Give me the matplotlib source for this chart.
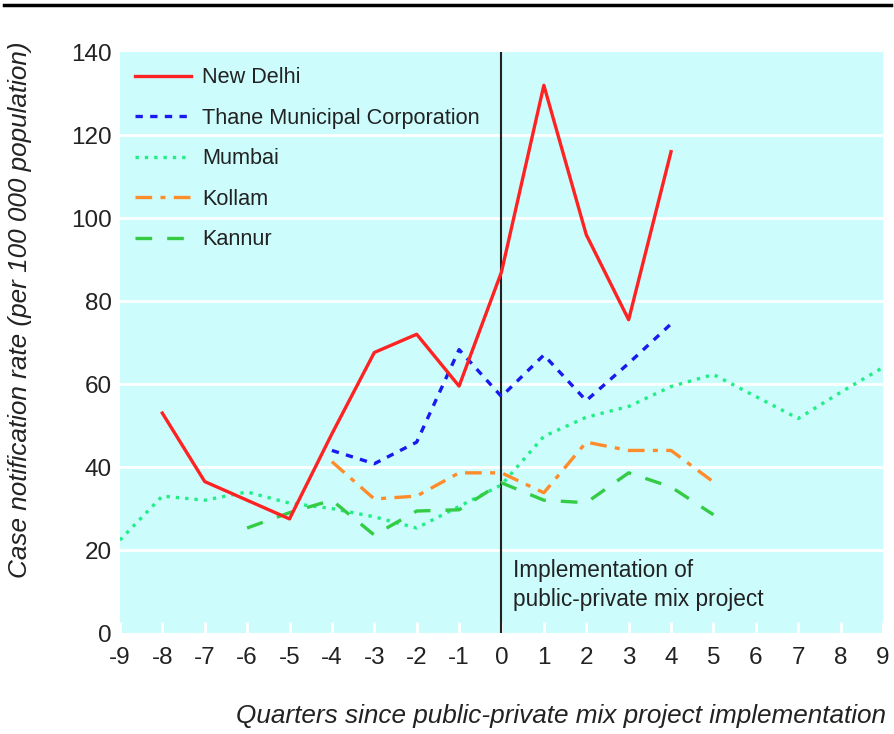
import matplotlib
matplotlib.use("Agg")
import matplotlib.pyplot as plt
from matplotlib.lines import Line2D

plt.rcParams["font.family"] = ["Liberation Sans", "DejaVu Sans"]

# ── Data ──────────────────────────────────────────────────────────────────────
delhi_x = [-8, -7, -6, -5, -4, -3, -2, -1, 0, 1, 2, 3, 4]
delhi_y = [53, 36.5, 32, 27.5, 48, 67.6, 72, 59.5, 87, 132, 96, 75.5, 116]

thane_x = [-4, -3, -2, -1, 0, 1, 2, 3, 4]
thane_y = [44, 40.8, 46, 68.3, 57, 67, 56, 65, 74.5]

mumbai_x = [-9, -8, -7, -6, -5, -4, -3, -2, -1, 0, 1, 2, 3, 4, 5, 6, 7, 8, 9]
mumbai_y = [22.4, 33, 32, 34, 31.3, 30, 28, 25.3, 30.5, 35.7, 47.4, 52, 54.6,
            59.4, 62.3, 57, 51.7, 58, 64]

kollam_x = [-4, -3, -2, -1, 0, 1, 2, 3, 4, 5]
kollam_y = [41.3, 32.3, 33, 38.6, 38.6, 33.8, 46, 44, 44, 36.4]

kannur_x = [-6, -5, -4, -3, -2, -1, 0, 1, 2, 3, 4, 5]
kannur_y = [25.3, 29, 32, 23.6, 29.4, 29.7, 36.2, 32, 31.4, 38.6, 35.2, 28.5]

x_ticks = list(range(-9, 10))
y_ticks = [0, 20, 40, 60, 80, 100, 120, 140]

# ── Figure ────────────────────────────────────────────────────────────────────
fig = plt.figure(figsize=(8.95, 7.34), dpi=100)
ax = fig.add_axes([0.134, 0.1376, 0.8526, 0.7914])
ax.set_facecolor("#ccfcfc")

for y in y_ticks[1:-1]:
    ax.axhline(y, color="white", linewidth=2, zorder=1)

ax.axvline(0, color="#222222", linewidth=1.5, zorder=2)

lw = 2.4
ax.plot(delhi_x, delhi_y, color="#ff2222", linewidth=lw, label="New Delhi", zorder=5)
ax.plot(thane_x, thane_y, color="#1a1aee", linewidth=lw, linestyle=(0, (2.2, 2.2)),
        label="Thane Municipal Corporation", zorder=4)
ax.plot(mumbai_x, mumbai_y, color="#22ee88", linewidth=lw, linestyle=(0, (1, 1.8)),
        label="Mumbai", zorder=3)
ax.plot(kollam_x, kollam_y, color="#ff8c2a", linewidth=lw, linestyle=(0, (5, 2.5, 1.5, 2.5)),
        label="Kollam", zorder=4)
ax.plot(kannur_x, kannur_y, color="#33cc44", linewidth=lw, linestyle=(0, (5, 4.5)),
        label="Kannur", zorder=4)

ax.set_xlim(-9, 9)
ax.set_ylim(0, 140)
ax.set_xticks(x_ticks)
ax.set_xticklabels([str(t) for t in x_ticks])
ax.set_yticks(y_ticks)
ax.tick_params(axis="x", direction="in", color="white", width=2, length=8,
               labelsize=17.5, labelcolor="#222222", pad=10)
ax.tick_params(axis="y", length=0, labelsize=17.5, labelcolor="#222222", pad=6)
for s in ax.spines.values():
    s.set_visible(False)

ax.text(0.28, 17.8, "Implementation of\npublic-private mix project", fontsize=16.3,
        color="#222222", va="top", ha="left", linespacing=1.3)

leg = ax.legend(loc="upper left", frameon=False, fontsize=15.6, handlelength=2.6,
                handletextpad=0.5, labelspacing=0.9, borderaxespad=0.3,
                bbox_to_anchor=(0.0, 1.0))
for t in leg.get_texts():
    t.set_color("#222222")

fig.text(0.022, 0.578, "Case notification rate (per 100 000 population)", rotation=90,
         fontsize=18.8, style="italic", color="#222222", ha="center", va="center")
fig.text(0.99, 0.025, "Quarters since public-private mix project implementation",
         fontsize=18.8, style="italic", color="#222222", ha="right", va="center")

fig.add_artist(Line2D([0.005, 0.995], [0.993, 0.993], color="black", linewidth=2.5,
                      transform=fig.transFigure))

fig.savefig("out.png", dpi=100)
